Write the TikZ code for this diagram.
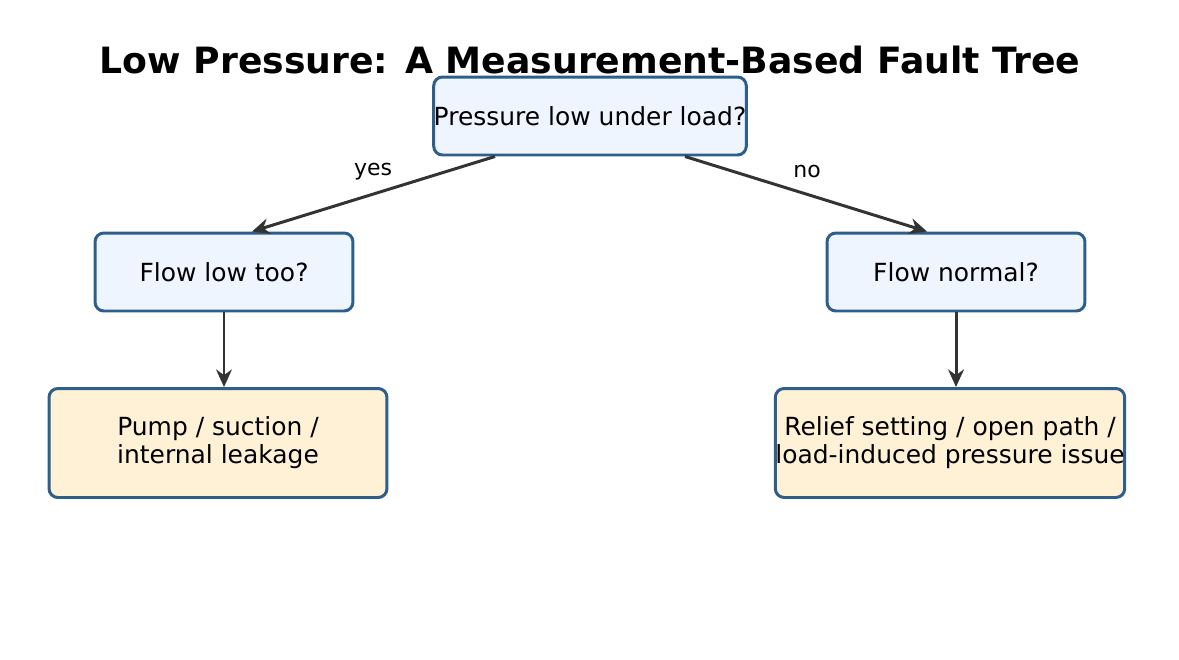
\documentclass[tikz,border=0pt]{standalone}
\usepackage{fontspec}
\setmainfont{DejaVu Sans}
\usetikzlibrary{arrows.meta}
\definecolor{edgeblue}{HTML}{2E5E8A}
\definecolor{qfill}{HTML}{EEF5FF}
\definecolor{afill}{HTML}{FFF1D6}
\definecolor{linkgray}{HTML}{333333}
\tikzset{
    box/.style={draw=edgeblue, line width=1.7pt, rounded corners=5pt, align=center, font=\fontsize{14.2}{16}\selectfont, inner sep=0pt},
    question/.style={box, fill=qfill, minimum height=1.56cm},
    answer/.style={box, fill=afill, minimum height=2.18cm, minimum width=6.76cm},
    link/.style={draw=linkgray, line width=1.7pt, -{Stealth[length=10pt,width=9pt]}},
    tag/.style={font=\fontsize{12.5}{14}\selectfont}
}
\begin{document}
\begin{tikzpicture}[x=0.02cm,y=-0.02cm]
            \useasboundingbox (0,0) rectangle (1179,659);
            \node[font=\fontsize{20.6}{24}\selectfont\bfseries] (title) at (590,60) {Low Pressure: A Measurement-Based Fault Tree};

            \node[question, minimum width=5.6cm] (top) at (590,116) {Pressure low under load?};
            \node[question, minimum width=5.16cm] (flowlow) at (224,272) {Flow low too?};
            \node[question, minimum width=5.16cm] (flownormal) at (956,272) {Flow normal?};
            \node[answer] (pump) at (218,443) {Pump / suction /\\internal leakage};
            \node[answer] (relief) at (950,443) {Relief setting / open path /\\load-induced pressure issue};

            \node[tag] (yes) at (373,172) {yes};
            \node[tag] (no) at (807,172) {no};
            \draw[link] ([xshift=-1.9cm]top.south) -- ([xshift=0.56cm]flowlow.north);
            \draw[link] ([xshift=1.9cm]top.south) -- ([xshift=-0.58cm]flownormal.north);
            \draw[link] (flowlow.south) -- (flowlow.south |- pump.north);
            \draw[link] (flownormal.south) -- (flownormal.south |- relief.north);
        \end{tikzpicture}
\end{document}
